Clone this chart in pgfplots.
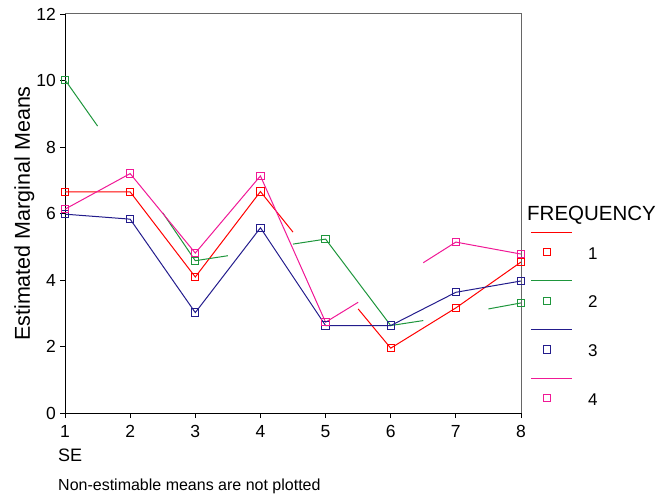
\documentclass[border=0pt]{standalone}
\usepackage{fontspec}
\setmainfont{Liberation Sans}
\usepackage{pgfplots}
\pgfplotsset{compat=1.18}
\definecolor{sred}{RGB}{255,0,0}
\definecolor{sgreen}{RGB}{30,150,60}
\definecolor{snavy}{RGB}{35,28,140}
\definecolor{spink}{RGB}{240,25,150}
\begin{document}
\begin{tikzpicture}
\begin{axis}[
  at={(65bp,83bp)}, anchor=south west,
  scale only axis, width=456bp, height=399bp,
  xmin=1, xmax=8, ymin=0, ymax=12,
  clip=false,
  axis lines=left, axis line style={-, black, line width=1bp},
  xtick={1,2,3,4,5,6,7,8}, ytick={0,2,4,6,8,10,12},
  tick align=outside, major tick length=5bp, tick style={black, line width=0.8bp},
  /pgf/number format/assume math mode=true,
  ticklabel style={font=\fontsize{17.5bp}{20bp}\selectfont, inner sep=0pt},
  yticklabel style={anchor=east, xshift=-4bp},
  xticklabel style={anchor=north, yshift=-7bp},
  ylabel={Estimated Marginal Means},
  ylabel style={at={(axis description cs:-0.0768,0.5)}, anchor=base, rotate=0, inner sep=0pt, font=\fontsize{21.5bp}{24bp}\selectfont},
  xlabel={SE},
  xlabel style={at={(axis description cs:-0.01535,-0.1053)}, anchor=west, inner sep=0pt, font=\fontsize{18bp}{21bp}\selectfont},
  legend cell align=left,
  legend style={at={(axis description cs:1.0219,0.4645)}, anchor=north west, draw=none, fill=none,
    inner sep=0pt, outer sep=0pt, row sep=0pt, column sep=0pt,
    font=\fontsize{17bp}{20bp}\selectfont, nodes={inner sep=0pt, yshift=-2bp}},
  legend image code/.code={
    \draw[#1, mark=none] (0bp,20bp) -- (41bp,20bp);
    \draw[#1] plot coordinates {(15.7bp,0bp)};
    \path[draw=none, fill=none] (0bp,-24.35bp) rectangle (56.7bp,24.35bp);
  },
]
\draw[black!60, line width=1bp] (rel axis cs:0,1) -- (rel axis cs:1,1) -- (rel axis cs:1,0);

% FREQUENCY 1 (red)
\addplot[sred, line width=1bp, unbounded coords=jump, forget plot] table {
x y
1 6.65
2 6.65
3 4.09
4 6.66
4.5 5.44
nan nan
5.5 3.13
6 1.95
7 3.16
8 4.54
};
\addplot[sred, line width=1bp, only marks, mark=square, mark size=3.6bp, forget plot] coordinates {
(1,6.65) (2,6.65) (3,4.09) (4,6.66) (6,1.95) (7,3.16) (8,4.54)};

% FREQUENCY 2 (green)
\addplot[sgreen, line width=1bp, unbounded coords=jump, forget plot] table {
x y
1 10.02
1.5 8.63
nan nan
2.5 6.02
3 4.58
3.5 4.73
nan nan
4.5 5.08
5 5.23
6 2.63
6.5 2.78
nan nan
7.5 3.13
8 3.31
};
\addplot[sgreen, line width=1bp, only marks, mark=square, mark size=3.6bp, forget plot] coordinates {
(1,10.02) (3,4.58) (5,5.23) (6,2.63) (8,3.31)};

% FREQUENCY 3 (navy)
\addplot[snavy, line width=1bp, forget plot] table {
x y
1 5.98
2 5.83
3 3.02
4 5.57
5 2.63
6 2.63
7 3.63
8 3.97
};
\addplot[snavy, line width=1bp, only marks, mark=square, mark size=3.6bp, forget plot] coordinates {
(1,5.98) (2,5.83) (3,3.02) (4,5.57) (5,2.63) (6,2.63) (7,3.63) (8,3.97)};

% FREQUENCY 4 (pink)
\addplot[spink, line width=1bp, unbounded coords=jump, forget plot] table {
x y
1 6.13
2 7.20
3 4.81
4 7.13
5 2.73
5.5 3.33
nan nan
6.5 4.52
7 5.14
8 4.78
};
\addplot[spink, line width=1bp, only marks, mark=square, mark size=3.6bp, forget plot] coordinates {
(1,6.13) (2,7.20) (3,4.81) (4,7.13) (5,2.73) (7,5.14) (8,4.78)};

\addlegendimage{sred, line width=1bp, mark=square, mark size=3.6bp}
\addlegendentry{1}
\addlegendimage{sgreen, line width=1bp, mark=square, mark size=3.6bp}
\addlegendentry{2}
\addlegendimage{snavy, line width=1bp, mark=square, mark size=3.6bp}
\addlegendentry{3}
\addlegendimage{spink, line width=1bp, mark=square, mark size=3.6bp}
\addlegendentry{4}
\end{axis}
\node[anchor=base west, inner sep=0pt, font=\fontsize{20.5bp}{24bp}\selectfont] at (527bp,275.6bp) {FREQUENCY};
\node[anchor=base west, inner sep=0pt, font=\fontsize{16bp}{19bp}\selectfont] at (58bp,5.3bp) {Non-estimable means are not plotted};
\pgfresetboundingbox
\useasboundingbox (0bp,0bp) rectangle (659bp,496bp);
\end{tikzpicture}
\end{document}
